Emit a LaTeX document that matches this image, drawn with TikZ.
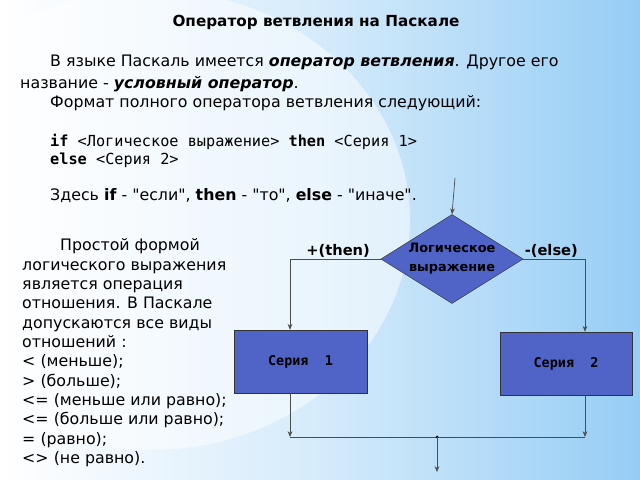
\documentclass[tikz,border=0pt]{standalone}
\usepackage{fontspec}
\setmainfont{DejaVu Sans}
\setmonofont{DejaVu Sans Mono}
\usetikzlibrary{shapes.geometric, arrows.meta, positioning}
\definecolor{boxblue}{RGB}{80,100,200}
\definecolor{bgblue}{RGB}{150,205,245}
\tikzset{
  txt/.style={anchor=base west, inner sep=0pt, font=\fontsize{13.5}{15}\selectfont},
  lbl/.style={inner sep=1pt, font=\fontsize{12.5}{14}\selectfont\bfseries},
  blk/.style={draw=black!80, fill=boxblue, font=\fontsize{11.5}{13}\selectfont\ttfamily\bfseries},
  flow/.style={draw=black!70, line width=0.6pt},
  arr/.style={flow, -{Stealth[length=5pt,width=4pt]}}
}
\newcommand{\qq}[1]{\textquotedbl#1\textquotedbl}
\begin{document}
\begin{tikzpicture}[x=0.03cm, y=-0.03cm]
\useasboundingbox (0,0) rectangle (640,480);
% background
\begin{scope}
\clip (0,0) rectangle (640,480);
\shade[left color=white, right color=bgblue, middle color=white!60!bgblue] (0,0) rectangle (640,480);
\fill[white, opacity=0.5] (150,220) ellipse (260 and 230);
\end{scope}

% upper text
\node[lbl, font=\fontsize{13}{15}\selectfont\bfseries] (title) at (316,22) {Оператор ветвления на Паскале};
\node[txt] (t1) at (50,67) {В языке Паскаль имеется \textbf{\textit{оператор ветвления}}. Другое его};
\node[txt] (t2) at (20,89) {название - \textbf{\textit{условный оператор}}.};
\node[txt] (t3) at (50,108) {Формат полного оператора ветвления следующий:};
\node[txt, font=\fontsize{13}{15}\selectfont\ttfamily] (t4) at (50,147) {\textbf{if} <Логическое выражение> \textbf{then} <Серия 1>};
\node[txt, font=\fontsize{13}{15}\selectfont\ttfamily] (t5) at (50,165) {\textbf{else} <Серия 2>};
\node[txt] (t6) at (50,201) {Здесь \textbf{if} - \qq{если}, \textbf{then} - \qq{то}, \textbf{else} - \qq{иначе}.};

% left text
\node[txt] (p0) at (60,250) {Простой формой};
\foreach \s [count=\i] in {логического выражения, является операция, {отношения. В Паскале}, допускаются все виды, отношений :, < (меньше);, > (больше);, <= (меньше или равно);, <= (больше или равно);, = (равно);, <> (не равно).}
  \node[txt] (p\i) at (22,{251+\i*19.3}) {\s};

% flowchart
\node[diamond, aspect=1.6, draw=black!80, fill=boxblue, inner sep=1pt, minimum width=4.26cm, minimum height=2.67cm, align=center, font=\fontsize{11}{16}\selectfont\bfseries] (cond) at (452,259) {Логическое\\выражение};
\node[blk, minimum width=3.99cm, minimum height=1.89cm] (s1) at (300.5,361.5) {Серия\ \ 1};
\node[blk, minimum width=3.96cm, minimum height=1.89cm] (s2) at (566,363.5) {Серия\ \ 2};
\coordinate (in) at (455,178);
\coordinate (j1) at (290,437);
\coordinate (j2) at (585,437);
\coordinate (jm) at (437,437);
\coordinate (out) at (437,472);

\draw[arr] (in) -- (cond.north);
\draw[arr] (cond.west) -| (s1.north -| j1);
\draw[arr] (cond.east) -| (s2.north -| j2);
\draw[arr] (s1.south -| j1) -- (j1);
\draw[arr] (s2.south -| j2) -- (j2);
\draw[flow] (j1) -- (j2);
\fill (jm) circle (1.5);
\draw[arr] (jm) -- (out);
\node[lbl, above=0pt of cond.west, anchor=south east, xshift=-8] (then) {+(then)};
\node[lbl, anchor=south west, xshift=0] (else) at (cond.east) {-(else)};
\end{tikzpicture}
\end{document}
